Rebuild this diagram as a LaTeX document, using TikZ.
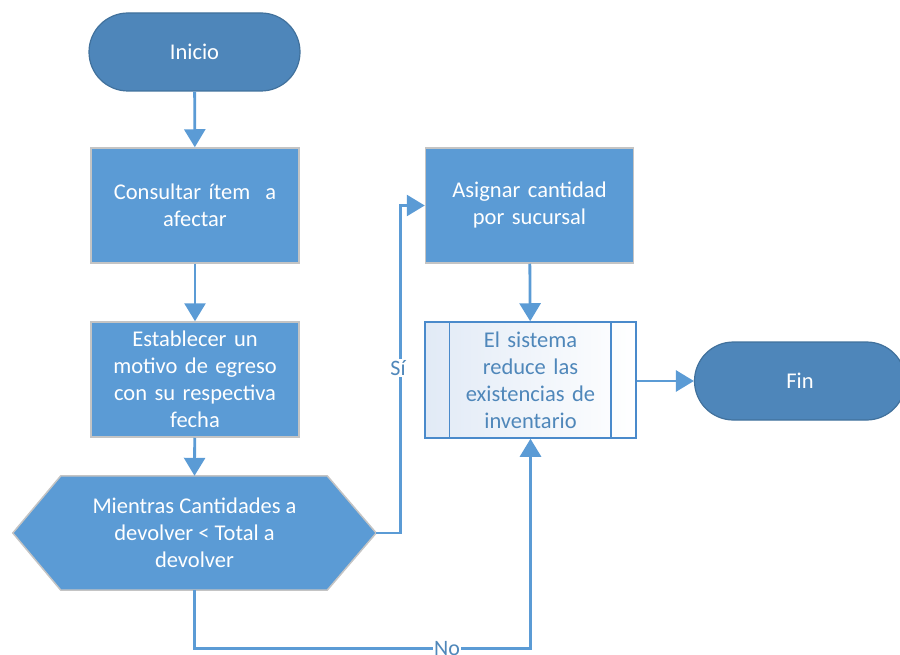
\documentclass[tikz,border=0pt]{standalone}
\usepackage{fontspec}
\setmainfont{Carlito}
\usetikzlibrary{arrows.meta,calc}

\definecolor{termfill}{HTML}{4E86BA}
\definecolor{termline}{HTML}{41719C}
\definecolor{procfill}{HTML}{5B9BD5}
\definecolor{procline}{HTML}{C4C4C4}
\definecolor{flowblue}{HTML}{5B9BD5}
\definecolor{subline}{HTML}{4A8ACB}
\definecolor{subtext}{HTML}{4F87BA}
\definecolor{subshade}{HTML}{E1EAF6}

\tikzset{
  txt/.style={font=\fontsize{22.5}{27}\selectfont, align=center, text=white},
  terminal/.style={txt, draw=termline, line width=1.2pt, fill=termfill,
    rounded corners=39pt, minimum width=211pt, minimum height=78pt},
  process/.style={txt, draw=procline, line width=1.5pt, fill=procfill,
    minimum width=208pt, minimum height=115pt, text width=194pt},
  subproc/.style={txt, text=subtext, draw=subline, line width=1.5pt,
    left color=subshade, right color=white,
    minimum width=211pt, minimum height=116pt, text width=156pt},
  flow/.style={draw=flowblue, line width=2.8pt,
    -{Triangle[width=21pt,length=18pt]}},
  branch/.style={font=\fontsize{22}{24}\selectfont, text=subtext,
    fill=white, inner sep=1pt}
}

\begin{document}
\begin{tikzpicture}[x=1pt,y=-1pt]
\useasboundingbox (0,0) rectangle (900,655);
\clip (0,0) rectangle (900,655);

% main column
\node[terminal] (inicio) at (194.5,52) {Inicio};
\node[process] (consultar) at (195,205.5) {Consultar ítem\ \ a\\afectar};
\node[process] (establecer) at (195,379.5) {Establecer un\\motivo de egreso\\con su respectiva\\fecha};

% loop condition (hexagon)
\node[txt, minimum width=363pt, minimum height=114pt, inner sep=0pt] (cond) at (194.5,533) {};
\fill[procfill, draw=procline, line width=1.5pt]
  (cond.west) -- ($(cond.north west)+(48,0)$) -- ($(cond.north east)+(-49,0)$)
  -- (cond.east) -- ($(cond.south east)+(-49,0)$) -- ($(cond.south west)+(48,0)$) -- cycle;
\node[txt] at (cond) {Mientras Cantidades a\\devolver < Total a\\devolver};

% right column
\node[process] (asignar) at (529.5,205.5) {Asignar cantidad\\por sucursal};
\node[subproc] (reduce) at (530.5,380) {El sistema\\reduce las\\existencias de\\inventario};
\draw[subline, line width=1.5pt]
  ($(reduce.north west)+(25,0)$) -- ($(reduce.south west)+(25,0)$)
  ($(reduce.north east)+(-26,0)$) -- ($(reduce.south east)+(-26,0)$);
\node[terminal] (fin) at (800,381) {Fin};

% connectors
\draw[flow] (inicio) -- (consultar);
\draw[flow] (consultar) -- (establecer);
\draw[flow] (establecer) -- (cond.north);
\coordinate (siturn) at ($(cond.east)+(24,0)$);
\draw[flow] (cond.east) -- (siturn) |- (asignar.west);
\node[branch] at (398,368) {Sí};
\draw[flow] (asignar) -- (reduce);
\draw[flow] (reduce.east |- fin.west) -- (fin.west);
\coordinate (noturn) at ($(cond.south)+(0,58)$);
\draw[flow] (cond.south) -- (noturn) -| (reduce.south);
\node[branch] at (447,649) {No};
\end{tikzpicture}
\end{document}
